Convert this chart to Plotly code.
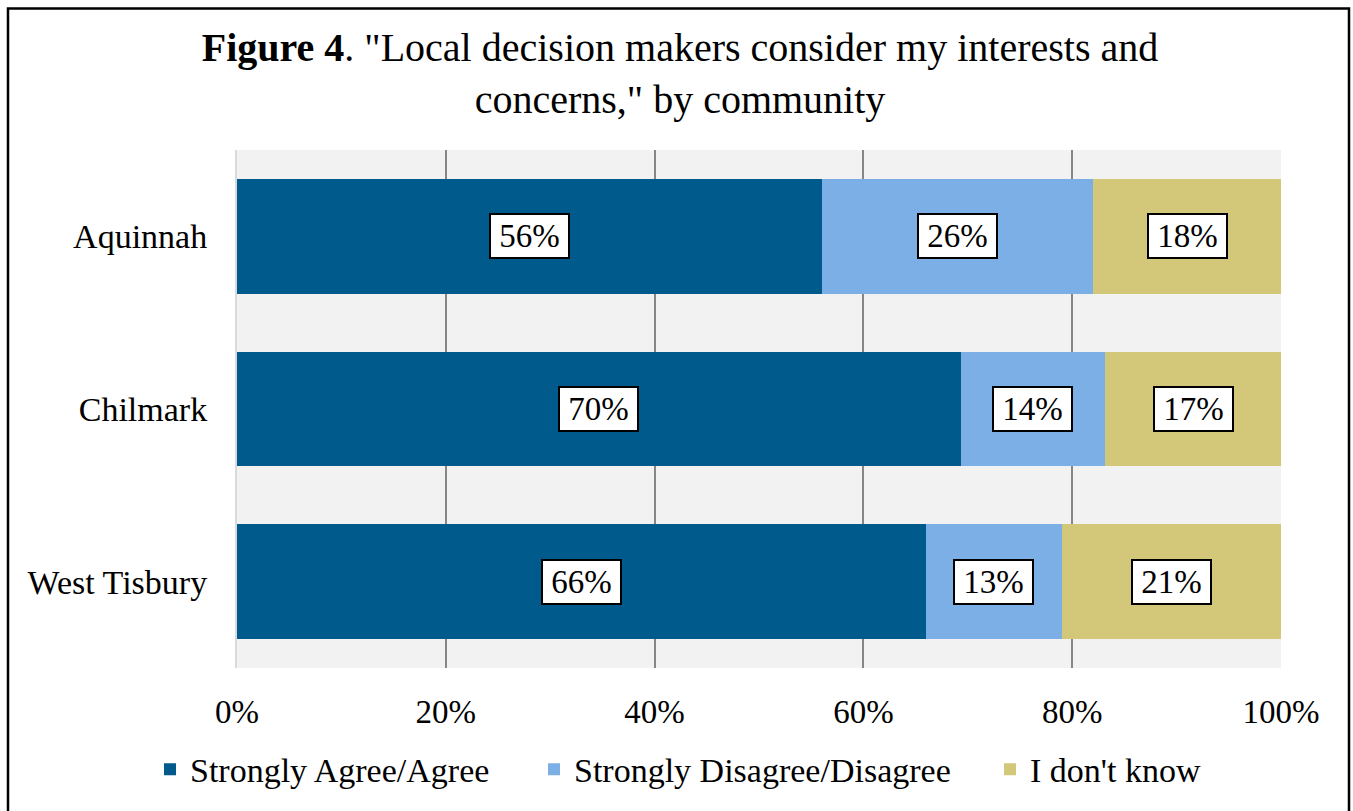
import plotly.graph_objects as go

# Survey responses by community (percent of respondents)
communities = ["Aquinnah", "Chilmark", "West Tisbury"]
agree = [56, 70, 66]
disagree = [26, 14, 13]
dont_know = [18, 17, 21]

series_names = ["Strongly Agree/Agree", "Strongly Disagree/Disagree", "I don't know"]
series_values = [agree, disagree, dont_know]
series_colors = ["#005A8C", "#7BAFE6", "#D3C77A"]
x_ticks = [0, 20, 40, 60, 80, 100]
x_tick_text = ["0%", "20%", "40%", "60%", "80%", "100%"]

FONT = "Liberation Serif"

# plot area in pixels
W, H = 1353, 811
L, R, T, B = 237, 72, 150, 141
PW, PH = W - L - R, H - T - B


def px_x(px):
    return (px - L) / PW


def px_y(py):
    return (H - B - py) / PH


fig = go.Figure()
legend_ids = ["legend", "legend2", "legend3"]
for name, vals, color, lg in zip(series_names, series_values, series_colors, legend_ids):
    fig.add_trace(go.Bar(
        y=communities, x=vals, name=name, orientation="h",
        marker=dict(color=color, line=dict(width=0)),
        legend=lg, showlegend=True, hoverinfo="skip",
    ))

# boxed value labels centred in each segment (positions follow the normalised stack)
annotations = []
for i, c in enumerate(communities):
    row = [s[i] for s in series_values]
    total = sum(row)
    cum = 0
    for v in row:
        mid = (cum + v / 2) / total * 100
        cum += v
        annotations.append(dict(
            x=mid, y=c, xref="x", yref="y", text=f"{v}%", showarrow=False,
            font=dict(family=FONT, size=33, color="black"),
            bgcolor="white", bordercolor="black", borderwidth=2, borderpad=1,
            width=75, height=40, align="center", valign="middle",
        ))

legend_common = dict(
    orientation="h", yanchor="middle", y=px_y(772), xanchor="left",
    font=dict(family=FONT, size=34, color="black"), bgcolor="rgba(0,0,0,0)",
    traceorder="normal", visible=True,
)

fig.update_layout(
    width=W, height=H,
    margin=dict(l=L, r=R, t=T, b=B),
    paper_bgcolor="white", plot_bgcolor="#F2F2F2",
    barmode="stack", barnorm="percent", bargap=0.336,
    showlegend=True,
    title=dict(
        text='<b>Figure 4</b>. "Local decision makers consider my interests and<br>concerns," by community',
        font=dict(family=FONT, size=40, color="black"),
        x=680 / W, xanchor="center", xref="container",
        y=1 - 61 / H, yanchor="top", yref="container",
    ),
    xaxis=dict(
        range=[0, 100], tickvals=x_ticks, ticktext=x_tick_text,
        showgrid=True, gridcolor="#868686", gridwidth=1.5, zeroline=False,
        showline=False, ticks="", ticklabelstandoff=21,
        tickfont=dict(family=FONT, size=33, color="black"),
        fixedrange=True,
    ),
    yaxis=dict(
        autorange="reversed", showgrid=False, zeroline=False,
        showline=True, linecolor="#D9D9D9", linewidth=2,
        ticks="", ticklabelstandoff=21,
        tickfont=dict(family=FONT, size=34, color="black"),
        fixedrange=True,
    ),
    legend=dict(legend_common, x=px_x(150)),
    legend2=dict(legend_common, x=px_x(534)),
    legend3=dict(legend_common, x=px_x(990)),
    annotations=annotations,
    shapes=[dict(
        type="rect", xref="paper", yref="paper",
        x0=px_x(8), x1=px_x(1349), y0=px_y(830), y1=px_y(8),
        line=dict(color="black", width=2.5), fillcolor="rgba(0,0,0,0)", layer="above",
    )],
)

fig.write_html("out.html")
